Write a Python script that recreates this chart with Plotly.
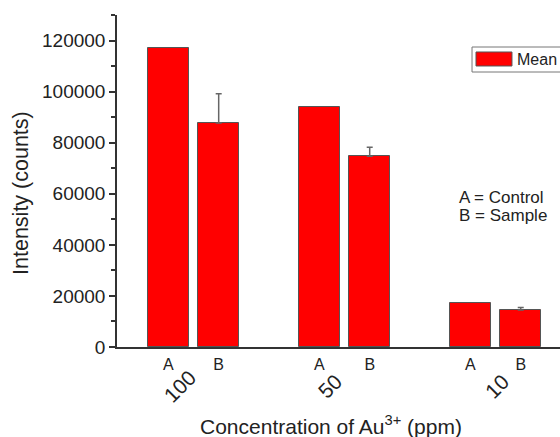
import plotly.graph_objects as go

# ---- data ----
groups = ["100", "50", "10"]
sub_labels = ["A", "B"]
means = [[117000, 87700], [94100, 74700], [17300, 14500]]
errors_up = [[None, 11500], [None, 3500], [None, 1000]]
legend_name = "Mean"
x_title = "Concentration of Au<sup>3+</sup> (ppm)"
y_title = "Intensity (counts)"
notes = ["A = Control", "B = Sample"]

# positions: 3 slots per group (2 bars + gap)
xs, ys, es, tl = [], [], [], []
for gi, g in enumerate(groups):
    for si, s in enumerate(sub_labels):
        xs.append(3 * gi + 1 + si)
        ys.append(means[gi][si])
        es.append(errors_up[gi][si])
        tl.append(s)
group_centers = [3 * gi + 1.5 for gi in range(len(groups))]
group_label_shift = [-14, -15, 1]

FONT = "Liberation Sans, Arial, sans-serif"
AX = "#333333"
TXT = "#222222"

fig = go.Figure()
fig.add_trace(go.Bar(
    x=xs, y=ys, width=0.82, name=legend_name,
    marker=dict(color="#FF0000", line=dict(color="#555555", width=1)),
    showlegend=False,
))
# upward-only error bars for the points that have them
ex = [x for x, e in zip(xs, es) if e is not None]
ey = [y for y, e in zip(ys, es) if e is not None]
ee = [e for e in es if e is not None]
fig.add_trace(go.Scatter(
    x=ex, y=ey, mode="markers", marker=dict(size=0.1, color="rgba(0,0,0,0)"),
    error_y=dict(type="data", array=ee, arrayminus=[0] * len(ee), symmetric=False,
                 color="#666666", thickness=1.5, width=3),
    showlegend=False, hoverinfo="skip",
))

fig.update_layout(
    width=560, height=437,
    margin=dict(l=117, r=0, t=15, b=90),
    paper_bgcolor="white", plot_bgcolor="white",
    font=dict(family=FONT, color=TXT),
    bargap=0,
    xaxis=dict(range=[-0.02, 8.78], tickvals=xs, ticktext=tl, showline=True,
               linecolor=AX, linewidth=1.5, ticks="", showgrid=False, zeroline=False,
               tickfont=dict(size=16), ticklabelstandoff=2),
    yaxis=dict(range=[0, 130000], dtick=20000, tickformat="d", showline=True,
               linecolor=AX, linewidth=1.5,
               ticks="outside", ticklen=6, tickwidth=1.5, tickcolor=AX,
               minor=dict(dtick=10000, ticks="outside", ticklen=4, tickwidth=1.5, tickcolor=AX),
               showgrid=False, zeroline=False, tickfont=dict(size=19),
               ticklabelstandoff=0),
)

# group labels (rotated)
for g, c, sh in zip(groups, group_centers, group_label_shift):
    fig.add_annotation(x=c, y=-0.118, xref="x", yref="paper", text=g, showarrow=False,
                       textangle=-45, xshift=sh, xanchor="center", yanchor="middle",
                       font=dict(size=21, color=TXT))

# axis titles
fig.add_annotation(x=0.483, y=-0.279, xref="paper", yref="paper", text=x_title,
                   showarrow=False, xanchor="center", yanchor="bottom",
                   font=dict(size=21, color=TXT))
fig.add_annotation(x=-0.2167, y=0.464, xref="paper", yref="paper", text=y_title,
                   showarrow=False, textangle=-90, xanchor="center", yanchor="middle",
                   font=dict(size=21.5, color=TXT))

# notes
for txt, yy in zip(notes, [0.4518, 0.3946]):
    fig.add_annotation(x=0.767, y=yy, xref="paper", yref="paper", text=txt,
                       showarrow=False, xanchor="left", yanchor="middle",
                       font=dict(size=17, color=TXT))

# custom legend box
fig.add_shape(type="rect", xref="paper", yref="paper", x0=0.8014, x1=1.05, y0=0.8283, y1=0.9036,
              line=dict(color="#777777", width=1), fillcolor="white")
fig.add_shape(type="rect", xref="paper", yref="paper", x0=0.8104, x1=0.8916, y0=0.8464, y1=0.8886,
              line=dict(color="#555555", width=1), fillcolor="#FF0000")
fig.add_annotation(x=0.898, y=0.866, xref="paper", yref="paper", text=legend_name,
                   showarrow=False, xanchor="left", yanchor="middle",
                   font=dict(size=16, color=TXT))

fig.write_html("out.html")
